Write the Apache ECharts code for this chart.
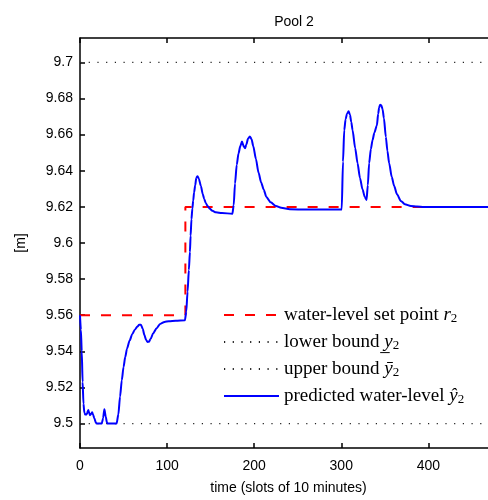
<!DOCTYPE html>
<html>
<head>
<meta charset="utf-8">
<script src="https://cdn.jsdelivr.net/npm/echarts@6/dist/echarts.min.js"></script>
<style>
  html, body { margin: 0; padding: 0; background: #fff; }
  #chart { width: 488px; height: 500px; }
</style>
</head>
<body>
<div id="chart"></div>
<script>
// Time axis (slots of 10 minutes); the window ends just before t = 470
const timeMin = 0;
const timeMax = 468.5;
const timeTicks = [0, 100, 200, 300, 400];

// Water level axis [m]
const levelMin = 9.4865;
const levelMax = 9.7135;
const levelTicks = [9.5, 9.52, 9.54, 9.56, 9.58, 9.6, 9.62, 9.64, 9.66, 9.68, 9.7];
const levelTickLabels = ['9.5', '9.52', '9.54', '9.56', '9.58', '9.6', '9.62', '9.64', '9.66', '9.68', '9.7'];

// Water-level set point r2 (step at t = 121)
const setPointTime = [0, 121, 121, 480];
const setPointLevel = [9.56, 9.56, 9.62, 9.62];

// Lower and upper bounds
const boundTime = [0, 480];
const lowerBound = [9.5, 9.5];
const upperBound = [9.7, 9.7];

// Predicted water level y^2
const predTime = [
  0, 1, 2, 3, 4, 5, 6, 7, 8, 9.5, 10.5, 11.5, 13, 14, 15, 16.5, 18, 19, 25, 26.5,
  28, 29.5, 31, 32, 42, 44, 46, 48, 50, 52, 54, 57, 60, 63, 66, 68, 70, 72, 74, 76,
  77.5, 79, 81, 84, 88, 92, 97, 102, 110, 120.5, 122, 123.5, 125, 126.2, 127, 128, 129, 130, 131, 132.3,
  133.5, 135, 136.5, 138.8, 141, 142.6, 144.5, 146.5, 149, 152, 156, 163, 175, 176.5, 178, 180, 182, 184, 186, 188,
  189.5, 191, 193, 195, 197, 199, 202, 205, 208, 211, 214, 219, 225, 231, 241, 260, 300.5, 302, 303.4, 305,
  306.5, 308.4, 310, 311.5, 313, 316, 318.7, 321.5, 324.4, 327, 329, 330.5, 332, 334, 335.9, 338, 340.9, 342.4, 343.5, 344.7,
  346, 347.4, 349, 351.2, 353, 355, 358, 360.8, 364, 368.4, 373, 379.9, 387, 395, 480
];
const predLevel = [
  9.560, 9.552, 9.540, 9.523, 9.511, 9.506, 9.505, 9.505, 9.5055, 9.5075, 9.506, 9.5047, 9.5055, 9.5063, 9.505, 9.503, 9.5008, 9.500, 9.500, 9.503,
  9.508, 9.504, 9.5005, 9.500, 9.500, 9.505, 9.515, 9.524, 9.5314, 9.537, 9.5415, 9.546, 9.5495, 9.552, 9.5538, 9.5548, 9.5548, 9.5525, 9.549, 9.5462,
  9.5452, 9.5453, 9.5468, 9.550, 9.5528, 9.5552, 9.5563, 9.5567, 9.5570, 9.5572, 9.562, 9.573, 9.585, 9.595, 9.604, 9.6132, 9.619, 9.6235, 9.628, 9.632,
  9.636, 9.637, 9.6355, 9.6316, 9.627, 9.6244, 9.622, 9.6205, 9.619, 9.6178, 9.617, 9.6166, 9.6162, 9.621, 9.633, 9.6433, 9.6495, 9.6535, 9.6562, 9.6535,
  9.6525, 9.6545, 9.6578, 9.659, 9.6575, 9.6535, 9.6465, 9.639, 9.6335, 9.6295, 9.6255, 9.6225, 9.6205, 9.6195, 9.6187, 9.6185, 9.6185, 9.645, 9.6624, 9.6685,
  9.6715, 9.6729, 9.671, 9.667, 9.6624, 9.6525, 9.6442, 9.636, 9.6297, 9.6255, 9.6238, 9.632, 9.6442, 9.652, 9.6569, 9.661, 9.6651, 9.6715, 9.675, 9.6766,
  9.6762, 9.6742, 9.669, 9.6587, 9.651, 9.6442, 9.6365, 9.6315, 9.627, 9.6233, 9.6215, 9.6205, 9.6202, 9.620, 9.620
];

const zip = (xs, ys) => xs.map((x, i) => [x, ys[i]]);

const sansFont = '"Liberation Sans", Arial, Helvetica, sans-serif';
const serifFont = '"Liberation Serif", "DejaVu Serif", serif';

const legendLabels = {
  'set point': '{n|water-level set point }{i|r}{s|2}',
  'lower bound': '{n|lower bound }{i|y\u0332}{s|2}',
  'upper bound': '{n|upper bound }{i|\u0233}{s|2}',
  'predicted': '{n|predicted water-level }{i|\u0177}{s|2}'
};

const chart = echarts.init(document.getElementById('chart'), null, { renderer: 'canvas' });

const axisLineStyle = { color: '#000', width: 1.5 };
const hiddenSymbol = { color: 'rgba(0,0,0,0)', borderWidth: 0, opacity: 0 };

chart.setOption({
  animation: false,
  backgroundColor: '#fff',
  title: {
    text: 'Pool 2',
    left: 289,
    top: 10,
    textAlign: 'center',
    textStyle: { fontFamily: sansFont, fontSize: 14, fontWeight: 'normal', color: '#000' }
  },
  grid: { left: 80, top: 38, right: 0, height: 411, containLabel: false },
  legend: {
    orient: 'vertical',
    left: 223,
    top: 305,
    padding: 0,
    itemWidth: 55,
    itemHeight: 12,
    itemGap: 7,
    data: ['set point', 'lower bound', 'upper bound', 'predicted'],
    formatter: name => legendLabels[name],
    itemStyle: { opacity: 0, borderWidth: 0 },
    textStyle: {
      color: '#000',
      fontFamily: serifFont,
      fontSize: 19,
      lineHeight: 20,
      rich: {
        n: { fontFamily: serifFont, fontSize: 19, lineHeight: 20, color: '#000' },
        i: { fontFamily: serifFont, fontSize: 19, lineHeight: 20, fontStyle: 'italic', color: '#000' },
        s: { fontFamily: serifFont, fontSize: 13, lineHeight: 20, color: '#000', padding: [7, 0, 0, 0] }
      }
    }
  },
  xAxis: [
    {
      type: 'value', position: 'bottom', min: timeMin, max: timeMax, interval: 100,
      name: 'time (slots of 10 minutes)', nameLocation: 'middle', nameGap: 33,
      nameTextStyle: { fontFamily: sansFont, fontSize: 14, color: '#000', padding: [0, 0, 0, 9] },
      axisLine: { show: true, onZero: false, lineStyle: axisLineStyle },
      axisTick: { show: true, inside: true, length: 5, lineStyle: axisLineStyle, customValues: timeTicks },
      axisLabel: { fontFamily: sansFont, fontSize: 14, color: '#000', margin: 11, customValues: timeTicks },
      splitLine: { show: false }
    },
    {
      type: 'value', position: 'top', min: timeMin, max: timeMax, interval: 100,
      axisLine: { show: true, onZero: false, lineStyle: axisLineStyle },
      axisTick: { show: true, inside: true, length: 5, lineStyle: axisLineStyle, customValues: timeTicks },
      axisLabel: { show: false },
      splitLine: { show: false }
    }
  ],
  yAxis: {
    type: 'value', min: levelMin, max: levelMax,
    name: '[m]', nameLocation: 'middle', nameGap: 52,
    nameTextStyle: { fontFamily: sansFont, fontSize: 14, color: '#000' },
    axisLine: { show: true, onZero: false, lineStyle: axisLineStyle },
    axisTick: { show: true, inside: true, length: 5, lineStyle: axisLineStyle, customValues: levelTicks },
    axisLabel: {
      fontFamily: sansFont, fontSize: 14, color: '#000', margin: 7,
      customValues: levelTicks,
      formatter: v => {
        const k = levelTicks.findIndex(t => Math.abs(t - v) < 1e-6);
        return k >= 0 ? levelTickLabels[k] : '';
      }
    },
    splitLine: { show: false }
  },
  series: [
    {
      name: 'set point', type: 'line', symbol: 'none', z: 2,
      data: zip(setPointTime, setPointLevel),
      itemStyle: hiddenSymbol,
      lineStyle: { color: '#ff0000', width: 2, type: [10, 11] }
    },
    {
      name: 'lower bound', type: 'line', symbol: 'none', z: 2,
      data: zip(boundTime, lowerBound),
      itemStyle: hiddenSymbol,
      lineStyle: { color: '#222', width: 1.2, type: [1.2, 7.5] }
    },
    {
      name: 'upper bound', type: 'line', symbol: 'none', z: 2,
      data: zip(boundTime, upperBound),
      itemStyle: hiddenSymbol,
      lineStyle: { color: '#222', width: 1.2, type: [1.2, 7.5] }
    },
    {
      name: 'predicted', type: 'line', symbol: 'none', z: 3,
      smooth: 0.25, smoothMonotone: 'x',
      data: zip(predTime, predLevel),
      itemStyle: hiddenSymbol,
      lineStyle: { color: '#0000ff', width: 2 }
    }
  ]
});
</script>
</body>
</html>
